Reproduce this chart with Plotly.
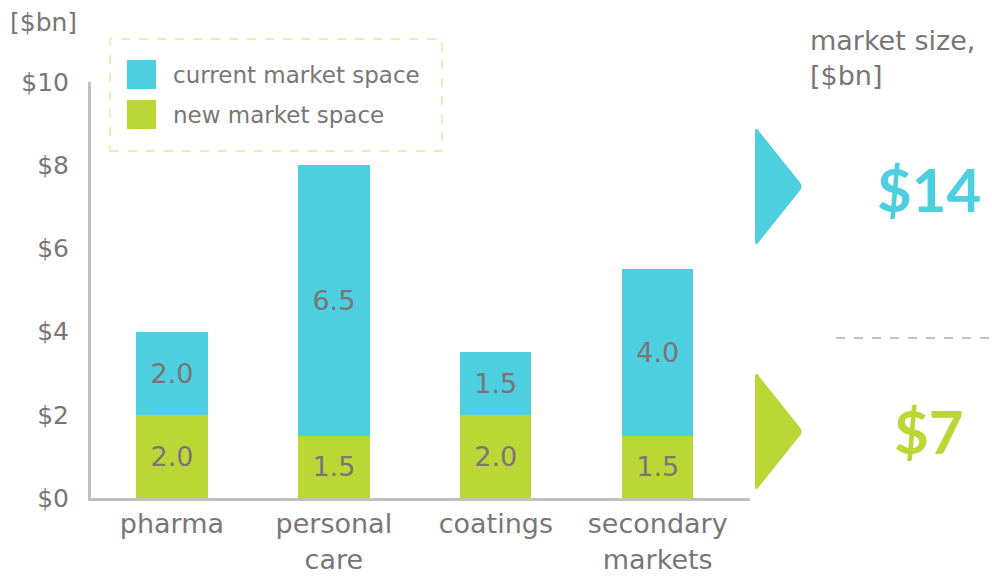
import plotly.graph_objects as go

# Market space by segment, $bn
categories = ["pharma", "personal<br>care", "coatings", "secondary<br>markets"]
new_space = [2.0, 1.5, 2.0, 1.5]
current_space = [2.0, 6.5, 1.5, 4.0]
y_ticks = [0, 2, 4, 6, 8, 10]
y_tick_labels = ["$0", "$2", "$4", "$6", "$8", "$10"]
total_current = 14
total_new = 7

BLUE = "#4dcfdf"
GREEN = "#bbd736"
GREY = "#7b7575"
AXIS = "#c0bebe"
FONT = "DejaVu Sans"
BOLD_FONT = "Lato"

W, H = 992, 578
L, R, T, B = 91, 242, 82, 80
PW, PH = W - L - R, H - T - B


def px(x):
    return (x - L) / PW


def py(y):
    return (H - B - y) / PH


fig = go.Figure()
fig.add_trace(go.Bar(
    x=categories, y=new_space, name="new market space",
    marker=dict(color=GREEN, line=dict(width=0)), width=0.44,
    texttemplate="%{y:.1f}", textposition="inside", insidetextanchor="middle",
    textfont=dict(size=27, color=GREY, family=FONT), showlegend=False,
))
fig.add_trace(go.Bar(
    x=categories, y=current_space, name="current market space",
    marker=dict(color=BLUE, line=dict(width=0)), width=0.44,
    texttemplate="%{y:.1f}", textposition="inside", insidetextanchor="middle",
    textfont=dict(size=27, color=GREY, family=FONT), showlegend=False,
))

shapes = []
annotations = []

# legend box
shapes.append(dict(type="rect", xref="paper", yref="paper",
                   x0=px(110), x1=px(442), y0=py(151), y1=py(39),
                   line=dict(color="#e6efb4", width=2, dash="dash"), layer="above"))
for i, (lab, col) in enumerate([("current market space", BLUE), ("new market space", GREEN)]):
    top = 60 + 40 * i
    shapes.append(dict(type="rect", xref="paper", yref="paper",
                       x0=px(127), x1=px(156), y0=py(top + 29), y1=py(top),
                       fillcolor=col, line=dict(width=0)))
    annotations.append(dict(text=lab, xref="paper", yref="paper", x=px(171), y=py(top + 15),
                            xanchor="left", yanchor="middle", showarrow=False,
                            font=dict(size=23, color=GREY, family=FONT)))


def tri_path(x0, x1, ytop, ybot):
    r = 8
    ym = (ytop + ybot) / 2
    pts = [
        (x0, ytop + r), (x0, ytop), (x0 + r * 0.6, ytop + r * 0.9),
        (x1 - 3, ym - 4), (x1, ym), (x1 - 3, ym + 4),
        (x0 + r * 0.6, ybot - r * 0.9), (x0, ybot), (x0, ybot - r),
    ]
    p = [(px(a), py(b)) for a, b in pts]
    return (f"M {p[0][0]},{p[0][1]} Q {p[1][0]},{p[1][1]} {p[2][0]},{p[2][1]} "
            f"L {p[3][0]},{p[3][1]} Q {p[4][0]},{p[4][1]} {p[5][0]},{p[5][1]} "
            f"L {p[6][0]},{p[6][1]} Q {p[7][0]},{p[7][1]} {p[8][0]},{p[8][1]} Z")


shapes.append(dict(type="path", xref="paper", yref="paper", path=tri_path(755, 803, 125, 248),
                   fillcolor=BLUE, line=dict(width=0)))
shapes.append(dict(type="path", xref="paper", yref="paper", path=tri_path(755, 803, 370, 493),
                   fillcolor=GREEN, line=dict(width=0)))
shapes.append(dict(type="line", xref="paper", yref="paper",
                   x0=px(836), x1=px(992), y0=py(338), y1=py(338),
                   line=dict(color="#8a8585", width=1.2, dash="dash")))

annotations += [
    dict(text="[$bn]", xref="paper", yref="paper", x=px(8), y=py(22), xanchor="left",
         yanchor="middle", showarrow=False, font=dict(size=25, color=GREY, family=FONT)),
    dict(text="market size,<br>[$bn]", xref="paper", yref="paper", x=px(808), y=py(58),
         xanchor="left", yanchor="middle", align="left", showarrow=False,
         font=dict(size=27, color=GREY, family=FONT)),
    dict(text=f"${total_current}", xref="paper", yref="paper", x=px(929), y=py(189),
         xanchor="center", yanchor="middle", showarrow=False,
         font=dict(size=60, color=BLUE, family=BOLD_FONT, weight="bold")),
    dict(text=f"${total_new}", xref="paper", yref="paper", x=px(929), y=py(431),
         xanchor="center", yanchor="middle", showarrow=False,
         font=dict(size=60, color=GREEN, family=BOLD_FONT, weight="bold")),
]

fig.update_layout(
    width=W, height=H, barmode="stack",
    margin=dict(l=L, r=R, t=T, b=B, autoexpand=False),
    paper_bgcolor="white", plot_bgcolor="white",
    shapes=shapes, annotations=annotations,
    font=dict(family=FONT, color=GREY),
    xaxis=dict(range=[-0.5, 3.57], showline=True, linecolor=AXIS, linewidth=3,
               showgrid=False, ticks="", tickfont=dict(size=27, color=GREY, family=FONT),
               ticklabelstandoff=0, fixedrange=True),
    yaxis=dict(range=[0, 10], tickvals=y_ticks, ticktext=y_tick_labels, showline=True,
               linecolor=AXIS, linewidth=3, showgrid=False, zeroline=False, ticks="",
               ticklabelstandoff=14, tickfont=dict(size=25, color=GREY, family=FONT),
               fixedrange=True),
)

fig.write_html("out.html")
